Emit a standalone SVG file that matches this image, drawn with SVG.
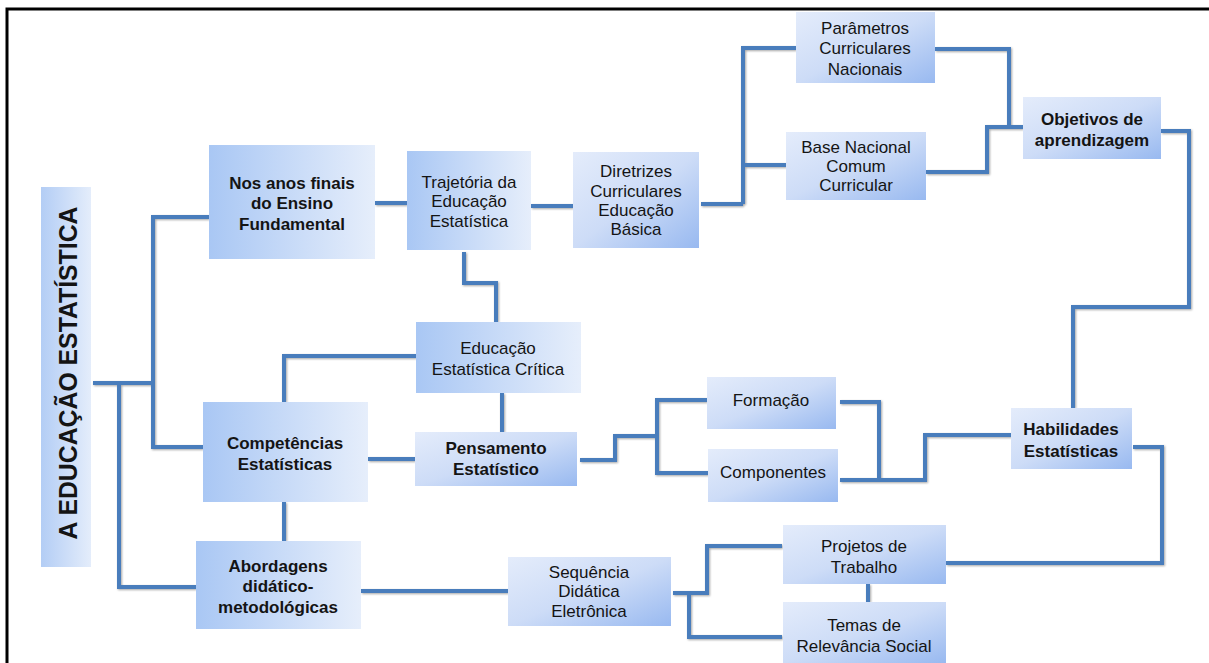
<svg xmlns="http://www.w3.org/2000/svg" width="1209" height="663" viewBox="0 0 1209 663">
<defs>
<linearGradient id="gh" x1="0" y1="0" x2="1" y2="0">
<stop offset="0" stop-color="#a9c7f4"/>
<stop offset="1" stop-color="#e6eefb"/>
</linearGradient>
<linearGradient id="gt" x1="0" y1="0" x2="1" y2="0">
<stop offset="0" stop-color="#b3cdf5"/>
<stop offset="1" stop-color="#e4edfb"/>
</linearGradient>
<linearGradient id="gd" x1="0" y1="0" x2="1" y2="1">
<stop offset="0" stop-color="#e4ecfb"/>
<stop offset="0.5" stop-color="#cddcf7"/>
<stop offset="1" stop-color="#98b9f0"/>
</linearGradient>
<filter id="sh" x="-5%" y="-5%" width="110%" height="110%">
<feDropShadow dx="1" dy="1" stdDeviation="0.8" flood-color="#000" flood-opacity="0.35"/>
</filter>
</defs>
<style>
text{font-family:"Liberation Sans",Arial,sans-serif;font-size:17px;fill:#141414;text-anchor:middle}
.b{font-weight:bold}
.h{fill:url(#gh)}
.d{fill:url(#gd)}
#connectors path{fill:none;stroke:#4a7dbc;stroke-width:4;stroke-linejoin:miter}
</style>
<rect width="1209" height="663" fill="#fff"/>
<path d="M7,663 V9 H1209" fill="none" stroke="#000" stroke-width="3"/>

<g id="connectors" filter="url(#sh)">
<path d="M93,383 H153"/>
<path d="M209,217 H153 V447 H203"/>
<path d="M119,383 V587 H196"/>
<path d="M375,203 H407"/>
<path d="M531,206 H573"/>
<path d="M701,204 H743"/>
<path d="M796,48 H743 V204"/>
<path d="M743,165 H786"/>
<path d="M935,49 H1009 V127"/>
<path d="M926,172 H987 V127 H1023"/>
<path d="M1161,131 H1189 V307 H1073 V408"/>
<path d="M464,252 V283 H496 V322"/>
<path d="M416,356 H284 V402"/>
<path d="M502,393 V432"/>
<path d="M368,459 H415"/>
<path d="M284,502 V541"/>
<path d="M580,460 H615 V436 H657"/>
<path d="M707,400 H657 V473 H708"/>
<path d="M840,402 H879 V480"/>
<path d="M840,480 H925 V435 H1011"/>
<path d="M1133,447 H1162 V563 H946"/>
<path d="M361,591 H508"/>
<path d="M673,593 H707 V546 H782"/>
<path d="M689,593 V637 H782"/>
<path d="M868,584 V602"/>
</g>

<g id="title">
<rect x="41" y="187" width="50" height="380" fill="url(#gt)"/>
<text class="b" transform="translate(77,373) rotate(-90)" style="font-size:25px" textLength="333" lengthAdjust="spacingAndGlyphs">A EDUCAÇÃO ESTATÍSTICA</text>
</g>

<g id="n-anos">
<rect class="h" x="209" y="145" width="166" height="114"/>
<text class="b" x="292" y="189">Nos anos finais</text>
<text class="b" x="292" y="209">do Ensino</text>
<text class="b" x="292" y="230">Fundamental</text>
</g>

<g id="n-trajetoria">
<rect class="h" x="407" y="151" width="124" height="99"/>
<text x="469" y="188">Trajetória da</text>
<text x="469" y="207">Educação</text>
<text x="469" y="227">Estatística</text>
</g>

<g id="n-diretrizes">
<rect class="d" x="573" y="152" width="126" height="96"/>
<text x="636" y="177">Diretrizes</text>
<text x="636" y="197">Curriculares</text>
<text x="636" y="216">Educação</text>
<text x="636" y="235">Básica</text>
</g>

<g id="n-pcn">
<rect class="d" x="796" y="12" width="139" height="71"/>
<text x="865" y="34">Parâmetros</text>
<text x="865" y="54">Curriculares</text>
<text x="865" y="75">Nacionais</text>
</g>

<g id="n-bncc">
<rect class="d" x="786" y="132" width="140" height="68"/>
<text x="856" y="153">Base Nacional</text>
<text x="856" y="172">Comum</text>
<text x="856" y="191">Curricular</text>
</g>

<g id="n-objetivos">
<rect class="d" x="1023" y="97" width="138" height="62"/>
<text class="b" x="1092" y="125">Objetivos de</text>
<text class="b" x="1092" y="146">aprendizagem</text>
</g>

<g id="n-eec">
<rect class="h" x="416" y="322" width="165" height="71"/>
<text x="498" y="354">Educação</text>
<text x="498" y="375">Estatística Crítica</text>
</g>

<g id="n-pensamento">
<rect class="d" x="415" y="432" width="162" height="54"/>
<text class="b" x="496" y="454">Pensamento</text>
<text class="b" x="496" y="475">Estatístico</text>
</g>

<g id="n-competencias">
<rect class="h" x="203" y="402" width="165" height="100"/>
<text class="b" x="285" y="449">Competências</text>
<text class="b" x="285" y="470">Estatísticas</text>
</g>

<g id="n-abordagens">
<rect class="h" x="196" y="541" width="165" height="88"/>
<text class="b" x="278" y="572">Abordagens</text>
<text class="b" x="278" y="592">didático-</text>
<text class="b" x="278" y="613">metodológicas</text>
</g>

<g id="n-formacao">
<rect class="d" x="707" y="377" width="129" height="52"/>
<text x="771" y="406">Formação</text>
</g>

<g id="n-componentes">
<rect class="d" x="708" y="449" width="130" height="53"/>
<text x="773" y="478">Componentes</text>
</g>

<g id="n-habilidades">
<rect class="d" x="1011" y="408" width="121" height="61"/>
<text class="b" x="1071" y="435">Habilidades</text>
<text class="b" x="1071" y="457">Estatísticas</text>
</g>

<g id="n-sequencia">
<rect class="d" x="508" y="557" width="163" height="69"/>
<text x="589" y="578">Sequência</text>
<text x="589" y="597">Didática</text>
<text x="589" y="617">Eletrônica</text>
</g>

<g id="n-projetos">
<rect class="d" x="783" y="525" width="163" height="59"/>
<text x="864" y="552">Projetos de</text>
<text x="864" y="573">Trabalho</text>
</g>

<g id="n-temas">
<rect class="d" x="783" y="602" width="163" height="61"/>
<text x="864" y="631">Temas de</text>
<text x="864" y="652">Relevância Social</text>
</g>
</svg>
